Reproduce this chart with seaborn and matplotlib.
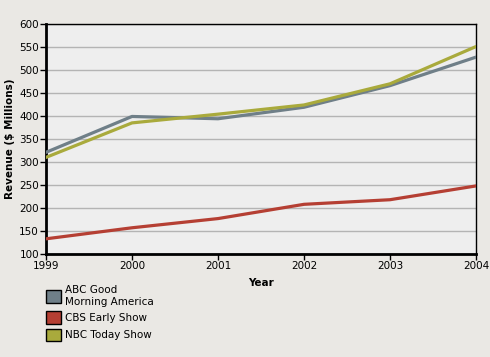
import matplotlib.pyplot as plt
import seaborn as sns
import pandas as pd
from matplotlib.patches import Patch

years = [1999, 2000, 2001, 2002, 2003, 2004]
abc = [321, 399, 394, 419, 466, 528]
cbs = [133, 157, 177, 208, 218, 248]
nbc = [310, 385, 404, 424, 470, 551]
shows = ["ABC Good\nMorning America", "CBS Early Show", "NBC Today Show"]
colors = ["#6f7f88", "#b53f33", "#a9aa3c"]

df = pd.DataFrame({
    "Year": years * 3,
    "Revenue": abc + cbs + nbc,
    "Show": [shows[0]] * 6 + [shows[1]] * 6 + [shows[2]] * 6,
})

sns.set_style("white")
plt.rcParams["font.family"] = ["DejaVu Sans"]
plt.rcParams.update({"text.color": "black", "axes.labelcolor": "black",
                     "xtick.color": "black", "ytick.color": "black"})

fig = plt.figure(figsize=(4.9, 3.57), dpi=100, facecolor="#eae8e4")
ax = fig.add_axes([46 / 490, 1 - 254 / 357, 430 / 490, 230 / 357])
ax.set_facecolor("#eeeeee")

sns.lineplot(data=df, x="Year", y="Revenue", hue="Show", palette=colors,
             linewidth=2.3, ax=ax, legend=False, zorder=3)

ax.set_xlim(1999, 2004)
ax.set_ylim(100, 600)
ax.set_yticks(range(100, 601, 50))
ax.set_xticks(years)
ax.yaxis.grid(True, color="#b4b4b4", linewidth=1)
ax.set_axisbelow(True)
ax.tick_params(labelsize=7.5, length=4, width=1, color="black", pad=1,
               direction="out", left=True, bottom=True)
for s in ["left", "bottom"]:
    ax.spines[s].set_linewidth(2)
for s in ["top", "right"]:
    ax.spines[s].set_linewidth(1)
for s in ax.spines.values():
    s.set_color("black")

ax.set_xlabel("Year", fontsize=7.5, fontweight="bold", labelpad=5)
ax.set_ylabel("Revenue ($ Millions)", fontsize=7.5, fontweight="bold", labelpad=3)

handles = [Patch(facecolor=c, edgecolor="black", linewidth=1) for c in colors]
fig.legend(handles, shows, loc="upper left", bbox_to_anchor=(42 / 490, 1 - 281 / 357),
           frameon=False, fontsize=7.5, handlelength=1.4, handleheight=1.45,
           handletextpad=0.45, labelspacing=0.45, borderaxespad=0)

fig.savefig("out.png", dpi=100, facecolor=fig.get_facecolor())
